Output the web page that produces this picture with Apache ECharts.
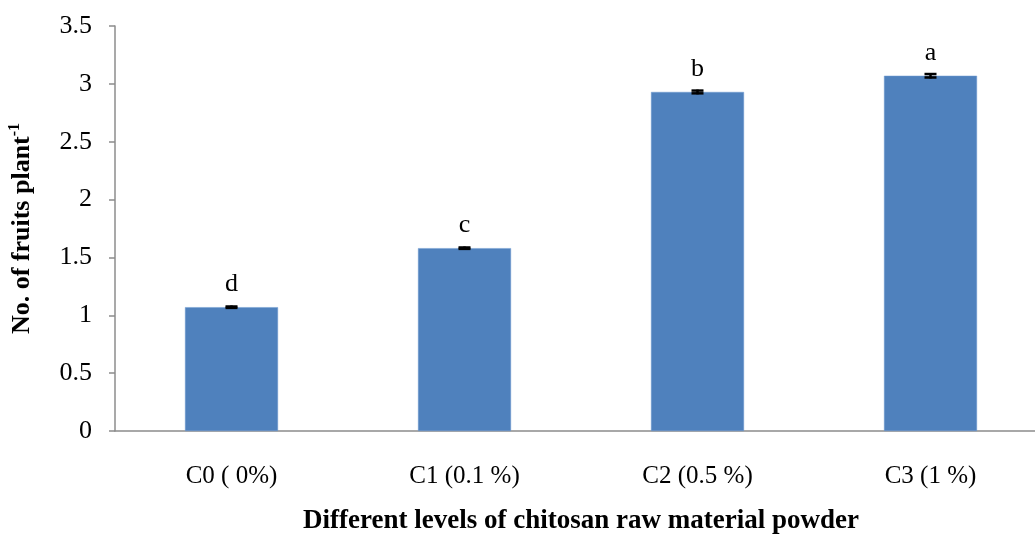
<!DOCTYPE html>
<html><head><meta charset="utf-8">
<script src="https://cdn.jsdelivr.net/npm/echarts@6/dist/echarts.min.js"></script>
<style>html,body{margin:0;padding:0;background:#fff}#c{width:1035px;height:538px}</style>
</head><body><div id="c"></div>
<script>
var categories = ['C0 ( 0%)', 'C1 (0.1 %)', 'C2 (0.5 %)', 'C3 (1 %)'];
var values = [1.07, 1.58, 2.93, 3.07];
var errors = [0.006, 0.006, 0.012, 0.015];
var letters = ['d', 'c', 'b', 'a'];
var yTicks = {min: 0, max: 3.5, interval: 0.5};

var chart = echarts.init(document.getElementById('c'));
var serif = '"Liberation Serif", "Times New Roman", serif';
chart.setOption({
  animation: false,
  grid: {left: 115, top: 26, width: 932, bottom: 107, containLabel: false, outerBoundsMode: 'none'},
  xAxis: {
    type: 'category', data: categories,
    axisLine: {lineStyle: {color: '#8c8c8c', width: 1.5}},
    axisTick: {show: false},
    axisLabel: {fontFamily: serif, fontSize: 25, color: '#000', margin: 33},
    name: 'Different levels of chitosan raw material powder',
    nameLocation: 'middle', nameGap: 77,
    nameTextStyle: {fontFamily: serif, fontSize: 27, fontWeight: 'bold', color: '#000'}
  },
  yAxis: {
    type: 'value', min: yTicks.min, max: yTicks.max, interval: yTicks.interval,
    axisLine: {show: true, lineStyle: {color: '#8c8c8c', width: 1.5}},
    axisTick: {show: true, inside: false, length: 6, lineStyle: {color: '#8c8c8c', width: 1.5}},
    splitLine: {show: false},
    axisLabel: {fontFamily: serif, fontSize: 26, color: '#000', margin: 23},
    name: '{a|No. of fruits plant}{s|-1}',
    nameLocation: 'middle', nameGap: 78, nameRotate: 90,
    nameTextStyle: {
      rich: {
        a: {fontFamily: serif, fontSize: 26, fontWeight: 'bold', color: '#000', lineHeight: 30},
        s: {fontFamily: serif, fontSize: 16, fontWeight: 'bold', color: '#000', verticalAlign: 'top', lineHeight: 30}
      }
    }
  },
  series: [{
    type: 'bar', data: values, barWidth: 93,
    itemStyle: {color: '#4F81BD', borderColor: '#6f9ad0', borderWidth: 0.5},
    label: {show: true, position: 'top', distance: 10,
      formatter: function (p) { return letters[p.dataIndex]; },
      fontFamily: serif, fontSize: 26, color: '#000'}
  }, {
    type: 'custom',
    data: values.map(function (v, i) { return [i, v - errors[i], v + errors[i]]; }),
    renderItem: function (params, api) {
      var lo = api.coord([api.value(0), api.value(1)]);
      var hi = api.coord([api.value(0), api.value(2)]);
      var x = lo[0], hw = 6;
      var st = {stroke: '#000', lineWidth: 2.5};
      return {type: 'group', children: [
        {type: 'line', shape: {x1: x, y1: lo[1] + 1, x2: x, y2: hi[1] - 1}, style: st},
        {type: 'line', shape: {x1: x - hw, y1: lo[1], x2: x + hw, y2: lo[1]}, style: st},
        {type: 'line', shape: {x1: x - hw, y1: hi[1], x2: x + hw, y2: hi[1]}, style: st}
      ]};
    },
    z: 10
  }]
});
</script></body></html>
